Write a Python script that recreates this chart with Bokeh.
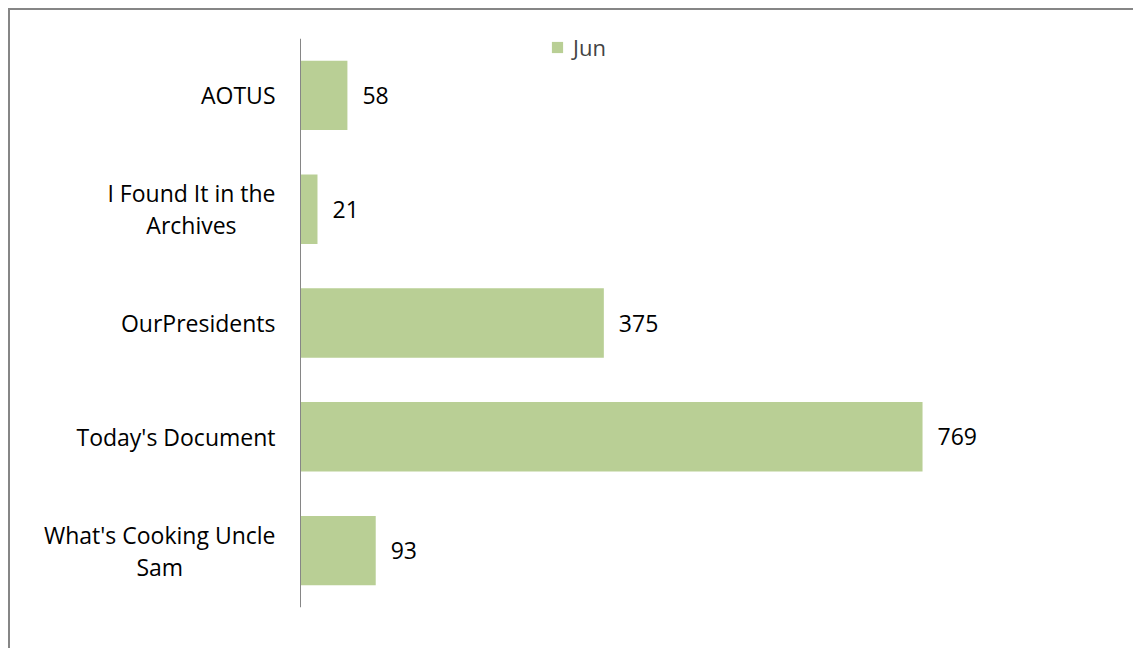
from bokeh.plotting import figure
from bokeh.models import ColumnDataSource, FactorRange, LabelSet, Range1d, Legend, LegendItem, Span
from bokeh.core.properties import value
from bokeh.embed import file_html
from bokeh.resources import INLINE

categories = ["AOTUS", "I Found It in the Archives", "OurPresidents", "Today's Document", "What's Cooking Uncle Sam"]
jun_values = [58, 21, 375, 769, 93]
series_name = "Jun"
wrapped_labels = {"I Found It in the Archives": "I Found It in the\nArchives",
                  "What's Cooking Uncle Sam": "What's Cooking Uncle\nSam"}
x_max = 900

FONT = "Open Sans"
BAR = "#B9CF95"
GRAY = "#868686"

# layout (pixels inside the bordered canvas)
CANVAS_W, CANVAS_H = 1125, 640
LABEL_AREA = 290      # room left of the value axis for category labels
RIGHT_PAD = 107
PLOT_W = CANVAS_W - RIGHT_PAD - LABEL_AREA
x_start = -LABEL_AREA * x_max / PLOT_W

display = [wrapped_labels.get(c, c) for c in categories]
src = ColumnDataSource(dict(cat=categories, name=display, val=jun_values, txt=[str(v) for v in jun_values]))

p = figure(width=CANVAS_W, height=CANVAS_H, output_backend="svg", toolbar_location=None,
           y_range=FactorRange(factors=list(reversed(categories)), range_padding=0),
           x_range=Range1d(x_start, x_max),
           min_border_left=0, min_border_right=RIGHT_PAD, min_border_top=28, min_border_bottom=43)
p.styles = {"margin-top": "8px", "margin-left": "8px",
            "border-top": "2px solid #868686", "border-left": "2px solid #868686"}
p.outline_line_color = None
p.grid.visible = False
p.xaxis.visible = False
p.yaxis.visible = False

r = p.hbar(y="cat", right="val", left=0, height=0.61, source=src, fill_color=BAR, line_color=None)

# value axis line at zero
p.add_layout(Span(location=0, dimension="height", line_color=GRAY, line_width=1))

# category labels: right-anchored blocks, lines centred within each block
p.text(x=0, y="cat", text="name", source=src, x_offset=-25, anchor="center_right",
       text_align="center", text_baseline="middle", text_font=value(FONT),
       text_font_size="23px", text_color="#000000", text_line_height=1.0)

labels = LabelSet(x="val", y="cat", text="txt", source=src, x_offset=15, text_baseline="middle",
                  text_font=value(FONT), text_font_size="23px", text_color="#000000")
p.add_layout(labels)

legend = Legend(items=[LegendItem(label=series_name, renderers=[r])], location=(540, 545),
                orientation="horizontal", padding=0, margin=0, border_line_color=None,
                background_fill_alpha=0, glyph_width=14, glyph_height=14, label_height=30,
                label_text_font=FONT, label_text_font_size="22px", label_standoff=9)
p.add_layout(legend)

open("out.html", "w").write(file_html(p, INLINE))
